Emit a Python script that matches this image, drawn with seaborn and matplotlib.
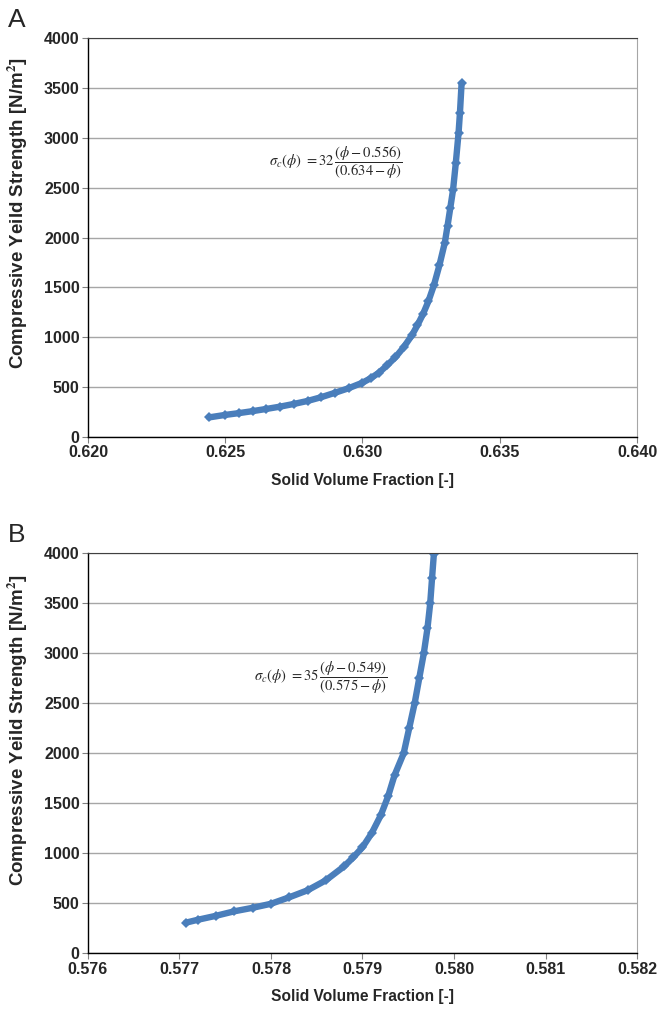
import matplotlib
matplotlib.use("Agg")
import matplotlib.pyplot as plt
import seaborn as sns
import pandas as pd

# Panel A data
phi_a = [0.62441, 0.6250, 0.6255, 0.6260, 0.6265, 0.6270, 0.6275, 0.6280, 0.6285,
         0.6290, 0.6295, 0.6300, 0.6303, 0.6306, 0.6309, 0.6312, 0.6315, 0.6318,
         0.6320, 0.6322, 0.6324, 0.6326, 0.6328, 0.6330, 0.6331, 0.6332, 0.6333,
         0.6334, 0.6335, 0.63355, 0.63361]
sigma_a = [197, 222, 240, 260, 282, 305, 332, 362, 400,
           444, 490, 545, 590, 645, 720, 800, 900, 1020,
           1120, 1230, 1360, 1520, 1720, 1950, 2120, 2300, 2480,
           2750, 3050, 3250, 3546]

# Panel B data
phi_b = [0.57707, 0.5772, 0.5774, 0.5776, 0.5778, 0.5780, 0.5782, 0.5784, 0.5786,
         0.5788, 0.5789, 0.5790, 0.5791, 0.5792, 0.57928, 0.57935, 0.57945, 0.57951,
         0.57957, 0.57962, 0.57967, 0.57971, 0.57974, 0.57976, 0.57978]
sigma_b = [306, 335, 375, 420, 455, 495, 560, 630, 730,
           870, 960, 1060, 1200, 1380, 1570, 1780, 2000, 2250,
           2500, 2750, 3000, 3250, 3500, 3750, 3993]

xticks_a = [0.620, 0.625, 0.630, 0.635, 0.640]
xticks_b = [0.576, 0.577, 0.578, 0.579, 0.580, 0.581, 0.582]
yticks = [0, 500, 1000, 1500, 2000, 2500, 3000, 3500, 4000]

formula_a = r"$\sigma_c(\phi)\ =32\,\dfrac{(\phi-0.556)}{(0.634-\phi)}$"
formula_b = r"$\sigma_c(\phi)\ =35\,\dfrac{(\phi-0.549)}{(0.575-\phi)}$"

sns.set_style("white")
plt.rcParams['font.family'] = ['Liberation Sans', 'DejaVu Sans']
plt.rcParams['mathtext.fontset'] = 'stix'

fig = plt.figure(figsize=(6.61, 10.11), dpi=100)
ax_a = fig.add_axes([0.1331, 0.5677, 0.8306, 0.3947])
ax_b = fig.add_axes([0.1331, 0.0571, 0.8306, 0.3956])

blue = "#4a7ebb"

def style(ax, xt, fmt, formula, fx, fy, letter, ly):
    ax.set_ylim(0, 4000)
    ax.set_xlim(xt[0], xt[-1])
    ax.set_xticks(xt)
    ax.set_xticklabels([fmt.format(v) for v in xt], fontweight='bold', fontsize=11.5)
    ax.set_yticks(yticks)
    ax.set_yticklabels([str(v) for v in yticks], fontweight='bold', fontsize=11.5)
    ax.grid(axis='y', color='#a6a6a6', linewidth=1.0)
    ax.grid(axis='x', visible=False)
    ax.set_axisbelow(True)
    for s in ['left', 'bottom']:
        ax.spines[s].set_color('black')
        ax.spines[s].set_linewidth(1.0)
    ax.spines['top'].set_color('#404040')
    ax.spines['right'].set_color('#a6a6a6')
    ax.tick_params(axis='both', direction='out', length=4, width=0.8, color='#808080',
                   pad=2, left=True, bottom=True)
    ax.set_xlabel("Solid Volume Fraction [-]", fontweight='bold', fontsize=11.2, labelpad=9)
    ax.set_ylabel(r"Compressive Yeild Strength [N/m$^\mathbf{2}$]", fontweight='bold',
                  fontsize=13.5)
    ax.yaxis.set_label_coords(-0.106, ly)
    ax.text(fx, fy, formula, fontsize=10.5, va='center', ha='left')
    ax.text(-0.145, 1.045, letter, transform=ax.transAxes, fontsize=19, ha='left', va='center')

df_a = pd.DataFrame({"phi": phi_a, "sigma": sigma_a})
df_b = pd.DataFrame({"phi": phi_b, "sigma": sigma_b})

sns.lineplot(data=df_a, x="phi", y="sigma", ax=ax_a, color=blue, linewidth=4.6,
             marker="D", markersize=4.6, markeredgewidth=0, sort=False)
sns.lineplot(data=df_b, x="phi", y="sigma", ax=ax_b, color=blue, linewidth=4.6,
             marker="D", markersize=4.6, markeredgewidth=0, sort=False)

style(ax_a, xticks_a, "{:.3f}", formula_a, 0.62659, 2747, "A", 0.561)
style(ax_b, xticks_b, "{:.3f}", formula_b, 0.57781, 2753, "B", 0.558)

fig.savefig("out.png", dpi=100)
